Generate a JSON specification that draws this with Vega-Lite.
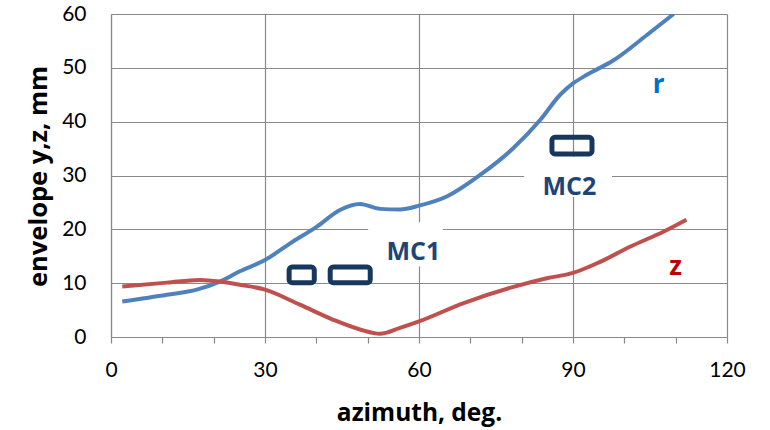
{
  "$schema": "https://vega.github.io/schema/vega-lite/v6.json",
  "width": 616,
  "height": 323,
  "autosize": {"type": "none"},
  "padding": {"left": 111, "top": 14, "right": 43, "bottom": 93},
  "background": "white",
  "config": {"view": {"stroke": null}, "font": "Lato"},
  "datasets": {
    "curves": [
      {"s": "r", "az": 2.2, "v": 6.6}, {"s": "r", "az": 10.9, "v": 7.85}, {"s": "r", "az": 16.7, "v": 8.8},
      {"s": "r", "az": 21.2, "v": 10.3}, {"s": "r", "az": 25.1, "v": 12.2}, {"s": "r", "az": 30, "v": 14.3},
      {"s": "r", "az": 34.9, "v": 17.4}, {"s": "r", "az": 40.1, "v": 20.5}, {"s": "r", "az": 44.6, "v": 23.6},
      {"s": "r", "az": 48.5, "v": 24.7}, {"s": "r", "az": 52.4, "v": 23.8}, {"s": "r", "az": 56.3, "v": 23.7},
      {"s": "r", "az": 60, "v": 24.4}, {"s": "r", "az": 65.4, "v": 26.1}, {"s": "r", "az": 71.9, "v": 30.1},
      {"s": "r", "az": 78.4, "v": 35.1}, {"s": "r", "az": 83.6, "v": 40.3}, {"s": "r", "az": 87.5, "v": 45.0},
      {"s": "r", "az": 90, "v": 47.1}, {"s": "r", "az": 92.7, "v": 48.7}, {"s": "r", "az": 97.9, "v": 51.4},
      {"s": "r", "az": 104.4, "v": 56.1}, {"s": "r", "az": 109.6, "v": 60.0},
      {"s": "z", "az": 2.2, "v": 9.4}, {"s": "z", "az": 10.9, "v": 10.1}, {"s": "z", "az": 17.3, "v": 10.6},
      {"s": "z", "az": 21.2, "v": 10.3}, {"s": "z", "az": 25.1, "v": 9.7}, {"s": "z", "az": 30, "v": 8.8},
      {"s": "z", "az": 36.8, "v": 6.0}, {"s": "z", "az": 43.3, "v": 3.2}, {"s": "z", "az": 48.5, "v": 1.4},
      {"s": "z", "az": 52.4, "v": 0.6}, {"s": "z", "az": 56.3, "v": 1.7}, {"s": "z", "az": 60, "v": 2.9},
      {"s": "z", "az": 68.7, "v": 6.3}, {"s": "z", "az": 78.4, "v": 9.3}, {"s": "z", "az": 84.9, "v": 10.9},
      {"s": "z", "az": 90, "v": 11.9}, {"s": "z", "az": 94.7, "v": 13.7}, {"s": "z", "az": 101.2, "v": 16.8},
      {"s": "z", "az": 107.7, "v": 19.6}, {"s": "z", "az": 112.1, "v": 21.8}
    ],
    "shapes": [
      {"name": "MC1a", "x1": 34.7, "x2": 39.6, "y1": 10.1, "y2": 13.0},
      {"name": "MC1b", "x1": 42.7, "x2": 50.5, "y1": 10.1, "y2": 13.0},
      {"name": "MC2", "x1": 85.9, "x2": 93.7, "y1": 34.0, "y2": 37.1}
    ],
    "boxes": [
      {"name": "MC1", "x1": 50.1, "x2": 64.7, "y1": 13.1, "y2": 21.3},
      {"name": "MC2", "x1": 80.5, "x2": 97.6, "y1": 26.0, "y2": 33.5}
    ],
    "labels": [
      {"t": "MC1", "az": 58.9, "v": 14.3},
      {"t": "MC2", "az": 89.3, "v": 26.4},
      {"t": "r", "az": 106.7, "v": 45.3},
      {"t": "z", "az": 110.0, "v": 11.6}
    ]
  },
  "layer": [
    {
      "data": {"name": "boxes"},
      "mark": {"type": "rect", "fill": "white", "strokeWidth": 0},
      "encoding": {
        "x": {
          "field": "x1", "type": "quantitative",
          "scale": {"domain": [0, 120], "nice": false, "zero": false},
          "axis": {
            "title": "azimuth, deg.",
            "values": [0,5,10,15,20,25,30,35,40,45,50,55,60,65,70,75,80,85,90,95,100,105,110,115,120],
            "labelExpr": "datum.value % 30 === 0 ? datum.label : ''",
            "grid": true,
            "gridColor": "#898989",
            "gridWidth": 1.2,
            "gridOpacity": {"condition": {"test": "datum.value % 30 === 0", "value": 1}, "value": 0},
            "domainColor": "#898989",
            "domainWidth": 1.2,
            "tickColor": "#898989",
            "tickWidth": 1.2,
            "tickSize": 6,
            "labelFont": "Lato",
            "labelFontSize": 21,
            "labelColor": "#000000",
            "labelBaseline": "middle",
            "labelPadding": 27,
            "labelFlush": false,
            "labelOverlap": false,
            "titleFont": "Open Sans",
            "titleFontSize": 24.5,
            "titleFontWeight": "bold",
            "titleColor": "#000000",
            "titleBaseline": "middle",
            "titleY": 76
          }
        },
        "x2": {"field": "x2", "title": "azimuth, deg."},
        "y": {
          "field": "y1", "type": "quantitative",
          "scale": {"domain": [0, 60], "nice": false, "zero": false},
          "axis": {
            "title": "envelope y,z, mm",
            "values": [0, 10, 20, 30, 40, 50, 60],
            "grid": true,
            "gridColor": "#898989",
            "gridWidth": 1.2,
            "domainColor": "#898989",
            "domainWidth": 1.2,
            "ticks": false,
            "tickSize": 0,
            "labelFont": "Lato",
            "labelFontSize": 21,
            "labelColor": "#000000",
            "labelPadding": 25,
            "labelFlush": false,
            "labelOverlap": false,
            "titleFont": "Open Sans",
            "titleFontSize": 25.5,
            "titleFontWeight": "bold",
            "titleColor": "#000000",
            "titleAngle": 270,
            "titleBaseline": "middle",
            "titleAlign": "center",
            "titleX": -73,
            "titleY": 162
          }
        },
        "y2": {"field": "y2", "title": "envelope y,z, mm"}
      }
    },
    {
      "data": {"name": "curves"},
      "mark": {"type": "line", "interpolate": "monotone", "strokeWidth": 4, "clip": true, "strokeCap": "butt"},
      "encoding": {
        "x": {"field": "az", "type": "quantitative", "title": "azimuth, deg."},
        "y": {"field": "v", "type": "quantitative", "title": "envelope y,z, mm"},
        "color": {"field": "s", "type": "nominal", "scale": {"domain": ["r", "z"], "range": ["#4F81BD", "#C0504D"]}, "legend": null}
      }
    },
    {
      "data": {"name": "shapes"},
      "mark": {"type": "rect", "fill": null, "fillOpacity": 0, "stroke": "#17375E", "strokeWidth": 5, "cornerRadius": 3},
      "encoding": {
        "x": {"field": "x1", "type": "quantitative", "title": "azimuth, deg."},
        "x2": {"field": "x2"},
        "y": {"field": "y1", "type": "quantitative", "title": "envelope y,z, mm"},
        "y2": {"field": "y2"}
      }
    },
    {
      "data": {"name": "labels"},
      "transform": [{"filter": "datum.t === 'MC1' || datum.t === 'MC2'"}],
      "mark": {"type": "text", "font": "Open Sans", "fontWeight": "bold", "fontSize": 25, "color": "#1F4476", "align": "center", "baseline": "alphabetic"},
      "encoding": {
        "x": {"field": "az", "type": "quantitative", "title": "azimuth, deg."},
        "y": {"field": "v", "type": "quantitative", "title": "envelope y,z, mm"},
        "text": {"field": "t"}
      }
    },
    {
      "data": {"name": "labels"},
      "transform": [{"filter": "datum.t === 'r'"}],
      "mark": {"type": "text", "font": "Open Sans", "fontWeight": "bold", "fontSize": 26, "color": "#0070C0", "align": "center", "baseline": "alphabetic"},
      "encoding": {
        "x": {"field": "az", "type": "quantitative", "title": "azimuth, deg."},
        "y": {"field": "v", "type": "quantitative", "title": "envelope y,z, mm"},
        "text": {"field": "t"}
      }
    },
    {
      "data": {"name": "labels"},
      "transform": [{"filter": "datum.t === 'z'"}],
      "mark": {"type": "text", "font": "Open Sans", "fontWeight": "bold", "fontSize": 26, "color": "#C00000", "align": "center", "baseline": "alphabetic"},
      "encoding": {
        "x": {"field": "az", "type": "quantitative", "title": "azimuth, deg."},
        "y": {"field": "v", "type": "quantitative", "title": "envelope y,z, mm"},
        "text": {"field": "t"}
      }
    }
  ]
}
